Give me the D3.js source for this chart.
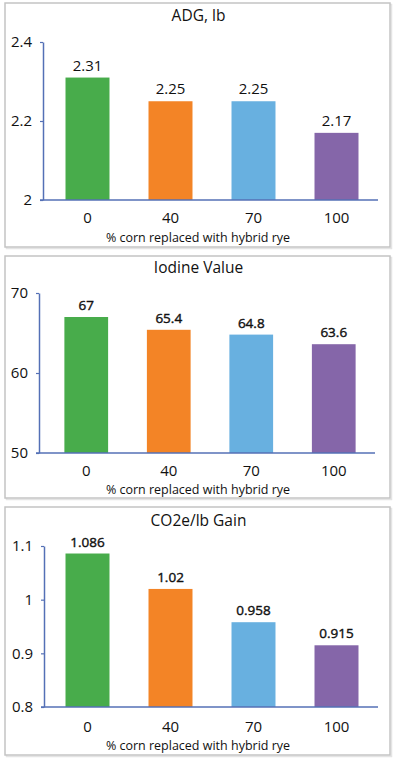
<!DOCTYPE html>
<html><head><meta charset="utf-8">
<script src="https://cdn.jsdelivr.net/npm/d3@7"></script>
<style>
html,body{margin:0;padding:0;background:#fff;}
svg{display:block;font-family:"Open Sans",Lato,sans-serif;}
</style></head>
<body>
<svg id="c" width="397" height="759"></svg>
<script>
const categories = ["0", "40", "70", "100"];
const barColors = ["#48ac4b", "#f38426", "#68b0e0", "#8566a9"];
const xAxisTitle = "% corn replaced with hybrid rye";

const adgTitle = "ADG, lb";
const adgValues = [2.31, 2.25, 2.25, 2.17];
const adgLabels = ["2.31", "2.25", "2.25", "2.17"];
const adgTicks = [2, 2.2, 2.4];
const adgTickLabels = ["2", "2.2", "2.4"];

const iodineTitle = "Iodine Value";
const iodineValues = [67, 65.4, 64.8, 63.6];
const iodineLabels = ["67", "65.4", "64.8", "63.6"];
const iodineTicks = [50, 60, 70];
const iodineTickLabels = ["50", "60", "70"];

const co2Title = "CO2e/lb Gain";
const co2Values = [1.086, 1.02, 0.958, 0.915];
const co2Labels = ["1.086", "1.02", "0.958", "0.915"];
const co2Ticks = [0.8, 0.9, 1.0, 1.1];
const co2TickLabels = ["0.8", "0.9", "1", "1.1"];

const svg = d3.select("#c");
const axisColor = "#5470b6";
const FONT = "'Open Sans', Lato, sans-serif";

const panels = [
  {title: adgTitle, values: adgValues, labels: adgLabels, ticks: adgTicks, tickLabels: adgTickLabels,
   box: [5, 3, 385, 244], titleY: 21, axisX: 43, xr: [46, 378], yr: [200, 42],
   xTickY: 223, xTitleY: 242, valSize: 15, valStroke: 0},
  {title: iodineTitle, values: iodineValues, labels: iodineLabels, ticks: iodineTicks, tickLabels: iodineTickLabels,
   box: [5, 256, 385, 242], titleY: 273, axisX: 39, xr: [45, 375], yr: [453, 293],
   xTickY: 476, xTitleY: 494, valSize: 13.5, valStroke: 0.4},
  {title: co2Title, values: co2Values, labels: co2Labels, ticks: co2Ticks, tickLabels: co2TickLabels,
   box: [5, 507, 385, 248], titleY: 526, axisX: 44, xr: [46, 378], yr: [707, 546],
   xTickY: 732, xTitleY: 750, valSize: 13.5, valStroke: 0.4}
];

panels.forEach(p => {
  const g = svg.append("g");
  g.append("rect").attr("x", p.box[0] + 1.5).attr("y", p.box[1] + 1.5)
    .attr("width", p.box[2]).attr("height", p.box[3])
    .attr("fill", "none").attr("stroke", "#e4e4e4").attr("stroke-width", 1.5);
  g.append("rect").attr("x", p.box[0]).attr("y", p.box[1])
    .attr("width", p.box[2]).attr("height", p.box[3])
    .attr("fill", "#fff").attr("stroke", "#c4c4c4").attr("stroke-width", 1.5);

  g.append("text").attr("x", (p.box[0] + p.box[0] + p.box[2]) / 2 + 1).attr("y", p.titleY)
    .attr("text-anchor", "middle").attr("font-size", 15.5).attr("fill", "#111").text(p.title);

  const dom = d3.extent(p.ticks);
  const y = d3.scaleLinear().domain(dom).range(p.yr);
  const x = d3.scaleBand().domain(categories).range(p.xr).padding(0);
  const bw = x.bandwidth() * 0.53;

  g.selectAll(".bar").data(p.values).enter().append("rect")
    .attr("x", (d, i) => x(categories[i]) + (x.bandwidth() - bw) / 2)
    .attr("y", d => y(d))
    .attr("width", bw)
    .attr("height", d => y(dom[0]) - y(d))
    .attr("fill", (d, i) => barColors[i]);

  g.selectAll(".val").data(p.values).enter().append("text")
    .attr("x", (d, i) => x(categories[i]) + x.bandwidth() / 2)
    .attr("y", d => y(d) - 7)
    .attr("text-anchor", "middle").attr("font-size", p.valSize)
    .attr("fill", "#111")
    .attr("stroke", p.valStroke ? "#111" : "none").attr("stroke-width", p.valStroke)
    .text((d, i) => p.labels[i]);

  const yAxis = d3.axisLeft(y).tickValues(p.ticks)
    .tickFormat((d, i) => p.tickLabels[i]).tickSize(3).tickSizeOuter(0).tickPadding(8);
  const ya = g.append("g").attr("transform", `translate(${p.axisX},0)`).call(yAxis);
  ya.select(".domain").attr("stroke", axisColor).attr("stroke-width", 1.5);
  ya.selectAll(".tick line").attr("stroke", axisColor).attr("stroke-width", 1.2);
  ya.selectAll(".tick text").attr("font-size", 15).attr("fill", "#111")
    .attr("font-family", FONT);

  const xAxis = d3.axisBottom(x).tickSize(0).tickSizeOuter(0).tickPadding(0);
  const xa = g.append("g").attr("transform", `translate(0,${y(dom[0])})`).call(xAxis);
  xa.select(".domain").attr("d", `M${p.axisX - 3},0H${p.xr[1]}`)
    .attr("stroke", axisColor).attr("stroke-width", 1.5);
  xa.selectAll(".tick text").attr("font-size", 15).attr("fill", "#111")
    .attr("font-family", FONT)
    .attr("dy", null).attr("y", p.xTickY - y(dom[0]));

  g.append("text").attr("x", 198).attr("y", p.xTitleY)
    .attr("text-anchor", "middle").attr("font-size", 12.5).attr("fill", "#111")
    .text(xAxisTitle);
});
</script>
</body></html>
